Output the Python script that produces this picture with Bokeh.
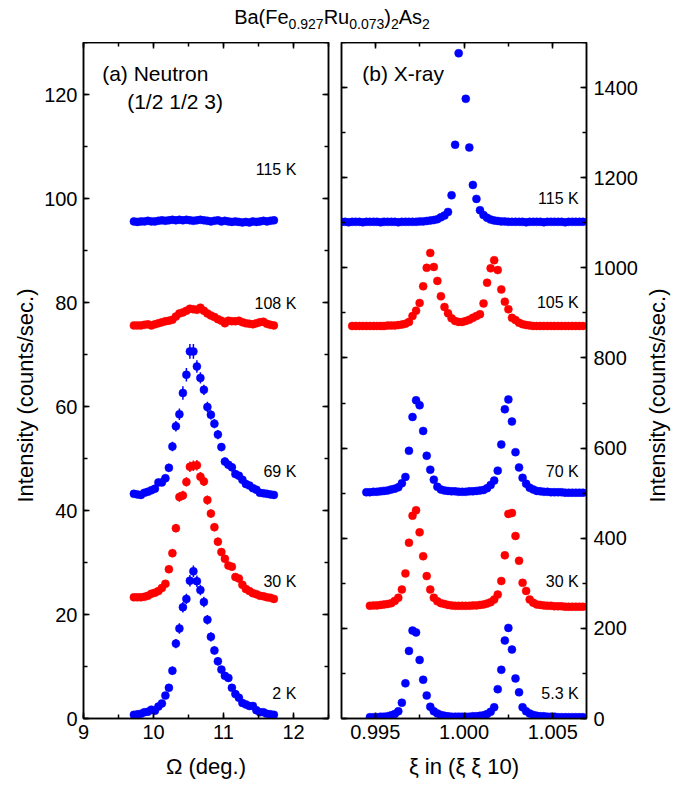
import math
from bokeh.plotting import figure
from bokeh.models import (LinearAxis, SingleIntervalTicker, Range1d, Label, Div,
                          NumeralTickFormatter, CustomLabelingPolicy)
from bokeh.layouts import row, column
from bokeh.embed import file_html
from bokeh.resources import INLINE

nan = float("nan")

# ---------------- (a) Neutron data: Omega (deg.) vs intensity ----------------
omega = [9.72, 9.77, 9.82, 9.87, 9.92, 9.97, 10.02, 10.07, 10.12, 10.17,
         10.22, 10.27, 10.32, 10.37, 10.42, 10.47, 10.52, 10.57, 10.62, 10.67,
         10.72, 10.77, 10.82, 10.87, 10.92, 10.97, 11.02, 11.07, 11.12, 11.17,
         11.22, 11.27, 11.32, 11.37, 11.42, 11.47, 11.52, 11.57, 11.62, 11.67,
         11.72]

n_2K = [0.7, 0.8, 0.9, 1.2, 1.3, 1.7, 1.5, 2.3, 2.9, 4.4,
        5.9, 9.2, 14.4, 17.3, 21.4, 23.0, 26.5, 28.3, 26.4, 24.7,
        22.4, 19.0, 15.7, 13.1, 11.0, 9.4, 8.2, 7.8, 5.9, 4.7,
        4.0, 3.0, 2.7, 2.4, 2.4, 1.6, 1.2, 1.2, 0.9, 0.8,
        0.7]
n_2K_err = [0.3, 0.3, 0.3, 0.4, 0.4, 0.4, 0.4, 0.5, 0.5, 0.6,
            0.7, 0.8, 0.9, 1.0, 1.0, 1.0, 1.1, 1.1, 1.1, 1.0,
            1.0, 0.9, 0.9, 0.8, 0.8, 0.7, 0.7, 0.7, 0.6, 0.6,
            0.5, 0.5, 0.5, 0.4, 0.4, 0.4, 0.4, 0.4, 0.3, 0.3,
            0.3]

n_30K = [23.3, 23.3, 23.3, 23.4, 23.6, 24.0, 24.2, 24.5, 25.1, 25.9,
         28.7, 31.8, 36.6, 42.6, 42.9, 45.5, 48.4, 48.6, 48.7, 46.5,
         45.6, 42.0, 39.4, 36.8, 34.0, 32.0, 30.7, 29.4, 29.2, 27.2,
         26.9, 25.7, 24.9, 24.5, 24.1, 23.9, 23.6, 23.5, 23.3, 23.2,
         23.0]
n_30K_err = [0.6, 0.6, 0.6, 0.6, 0.6, 0.6, 0.6, 0.6, 0.6, 0.7,
             0.7, 0.8, 0.8, 0.9, 0.9, 0.9, 1.0, 1.0, 1.0, 0.9,
             0.9, 0.9, 0.8, 0.8, 0.8, 0.8, 0.7, 0.7, 0.7, 0.7,
             0.7, 0.7, 0.6, 0.6, 0.6, 0.6, 0.6, 0.6, 0.6, 0.6,
             0.6]

n_69K = [43.2, 43.1, 43.0, 43.4, 43.6, 43.9, 44.2, 45.4, 45.4, 46.2,
         48.2, 52.3, 56.2, 58.5, 62.6, 66.1, 70.6, 70.6, 67.7, 65.5,
         63.2, 59.9, 58.4, 56.7, 54.6, 52.2, 49.4, 48.8, 48.3, 47.0,
         46.7, 45.9, 45.1, 44.8, 44.3, 44.0, 43.4, 43.3, 43.2, 43.1,
         43.0]
n_69K_err = [0.6, 0.6, 0.6, 0.6, 0.6, 0.6, 0.6, 0.7, 0.7, 0.7,
             0.8, 0.9, 1.0, 1.1, 1.3, 1.3, 1.4, 1.4, 1.2, 1.1,
             1.0, 1.0, 0.9, 0.9, 0.9, 0.8, 0.8, 0.8, 0.8, 0.7,
             0.7, 0.7, 0.7, 0.7, 0.6, 0.6, 0.6, 0.6, 0.6, 0.6,
             0.6]

n_108K = [75.6, 75.6, 75.6, 75.7, 75.8, 75.6, 75.8, 76.0, 76.2, 76.4,
          76.5, 76.7, 77.3, 77.9, 78.1, 78.4, 78.8, 78.7, 78.6, 79.0,
          78.4, 77.9, 77.5, 77.2, 76.8, 76.5, 76.0, 76.5, 76.4, 76.4,
          76.5, 76.2, 76.0, 75.9, 75.8, 76.0, 76.2, 76.3, 75.9, 75.7,
          75.6]

n_115K = [95.6, 95.5, 95.6, 95.6, 95.7, 95.6, 95.6, 95.7, 95.8, 95.7,
          95.8, 95.9, 95.8, 95.9, 95.8, 95.9, 95.8, 95.7, 95.8, 95.9,
          95.8, 95.7, 95.6, 95.7, 95.8, 95.6, 95.7, 95.6, 95.5, 95.6,
          95.5, 95.4, 95.5, 95.4, 95.6, 95.5, 95.6, 95.7, 95.6, 95.7,
          95.8]

# ---------------- (b) X-ray data: xi in (xi xi 10) vs intensity ----------------
xi = [0.9931, 0.9933, 0.9935, 0.9937, 0.9939, 0.9941, 0.9943, 0.9945, 0.9947, 0.9949,
      0.9951, 0.9953, 0.9955, 0.9957, 0.9959, 0.9961, 0.9963, 0.9965, 0.9967, 0.9969,
      0.9971, 0.9973, 0.9975, 0.9977, 0.9979, 0.9981, 0.9983, 0.9985, 0.9987, 0.9989,
      0.9991, 0.9993, 0.9995, 0.9997, 0.9999, 1.0001, 1.0003, 1.0005, 1.0007, 1.0009,
      1.0011, 1.0013, 1.0015, 1.0017, 1.0019, 1.0021, 1.0023, 1.0025, 1.0027, 1.0029,
      1.0031, 1.0033, 1.0035, 1.0037, 1.0039, 1.0041, 1.0043, 1.0045, 1.0047, 1.0049,
      1.0051, 1.0053, 1.0055, 1.0057, 1.0059, 1.0061, 1.0063, 1.0065, 1.0067]

x_5K = [nan, nan, nan, nan, nan, nan, nan, nan, 3, 3,
        3, 4, 4, 5, 7, 10, 16, 35, 78, 150,
        195, 191, 130, 86, 51, 26, 16, 11, 8, 6,
        5, 4, 4, 4, 4, 4, 4, 5, 5, 6,
        7, 10, 15, 25, 65, 108, 173, 201, 153, 89,
        58, 25, 16, 11, 8, 6, 5, 5, 4, 4,
        4, 3, 3, 3, 3, 3, 3, 3, 3]

x_30K = [nan, nan, nan, nan, nan, nan, nan, nan, 250, 251,
         251, 252, 253, 254, 256, 261, 268, 286, 322, 390,
         450, 462, 413, 360, 316, 286, 268, 260, 256, 254,
         252, 251, 250, 250, 250, 250, 250, 251, 251, 252,
         253, 255, 258, 264, 275, 305, 362, 454, 456, 405,
         350, 301, 283, 264, 257, 253, 252, 251, 250, 250,
         249, 249, 249, 248, 248, 248, 248, 248, 248]

x_70K = [nan, nan, nan, nan, nan, nan, nan, 502, 502, 503,
         503, 504, 505, 506, 508, 510, 513, 522, 536, 594,
         669, 706, 695, 638, 583, 552, 530, 514, 508, 506,
         505, 504, 504, 503, 503, 503, 504, 504, 505, 506,
         507, 511, 518, 528, 550, 608, 686, 708, 659, 591,
         557, 534, 521, 512, 508, 505, 504, 503, 503, 502,
         502, 502, 502, 501, 501, 501, 501, 501, 501]

x_105K = [nan, nan, nan, 871, 871, 871, 871, 871, 871, 871,
          871, 871, 871, 872, 872, 872, 873, 874, 876, 880,
          893, 905, 922, 959, 1000, 1033, 1002, 971, 937, 913,
          899, 888, 882, 880, 880, 882, 885, 889, 893, 897,
          921, 967, 999, 1017, 995, 952, 925, 908, 889, 884,
          878, 875, 873, 872, 871, 871, 871, 871, 871, 871,
          871, 871, 871, 871, 871, 871, 871, 871, 871]

x_115K = [1102, 1102, 1101, 1102, 1102, 1102, 1101, 1102, 1102, 1102,
          1102, 1101, 1102, 1102, 1102, 1102, 1101, 1102, 1102, 1102,
          1102, 1102, 1103, 1103, 1104, 1105, 1106, 1108, 1112, 1116,
          1124, 1161, 1273, 1476, nan, 1375, 1267, 1184, 1153, 1128,
          1117, 1111, 1107, 1105, 1104, 1103, 1103, 1102, 1102, 1102,
          1102, 1102, 1101, 1102, 1102, 1102, 1102, 1101, 1102, 1102,
          1102, 1102, 1102, 1101, 1102, 1102, 1102, 1102, 1102]

left_curve_labels = ["115 K", "108 K", "69 K", "30 K", "2 K"]
right_curve_labels = ["115 K", "105 K", "70 K", "30 K", "5.3 K"]

# ---------------- styling ----------------
FONT = "Liberation Sans"
BLUE = "#0000FF"
RED = "#FF0000"
TICK_FS = "20px"
AXLAB_FS = "22px"
ANN_FS = "16px"
PANEL_FS = "21px"
FIG_H = 743

HIDE_ALL = CustomLabelingPolicy(code="for (const i of indices) { indices.unset(i) }\nreturn indices")


def style_axis(ax, show_labels=True):
    ax.axis_line_color = "black"
    ax.axis_line_width = 1.5
    ax.major_tick_in = 6
    ax.major_tick_out = 0
    ax.minor_tick_in = 4
    ax.minor_tick_out = 0
    ax.major_tick_line_width = 1.5
    ax.minor_tick_line_width = 1.5
    ax.major_tick_line_color = "black"
    ax.minor_tick_line_color = "black"
    ax.major_label_text_font = FONT
    ax.axis_label_text_font = FONT
    ax.axis_label_text_font_style = "normal"
    ax.axis_label_text_font_size = AXLAB_FS
    ax.major_label_text_color = "black"
    ax.axis_label_text_color = "black"
    if show_labels:
        ax.major_label_text_font_size = TICK_FS
    else:
        ax.major_label_policy = HIDE_ALL
        ax.major_label_text_font_size = "0px"
        ax.major_label_standoff = 0
        ax.axis_label = None


def base_fig(width, x_range, y_range, ylab_loc, bl, br):
    p = figure(width=width, height=FIG_H, x_range=x_range, y_range=y_range,
               output_backend="svg", toolbar_location=None,
               y_axis_location=ylab_loc,
               min_border_left=bl, min_border_right=br,
               min_border_top=0, min_border_bottom=67)
    p.xgrid.visible = False
    p.ygrid.visible = False
    p.outline_line_color = "black"
    p.outline_line_width = 1.5
    p.background_fill_color = "white"
    p.border_fill_color = "white"
    return p


def add_text(p, x, y, txt, size, align="left", angle=0.0):
    p.add_layout(Label(x=x, y=y, text=txt, text_align=align, angle=angle,
                       text_baseline="middle", text_font=FONT,
                       text_font_size=size, text_color="black"))


def side_title(width, x, txt):
    # narrow strip holding a rotated y-axis title (reads bottom to top)
    s = figure(width=width, height=FIG_H, x_range=Range1d(0, width),
               y_range=Range1d(0, FIG_H), output_backend="svg",
               toolbar_location=None, x_axis_type=None, y_axis_type=None,
               min_border=0)
    s.outline_line_color = None
    s.xgrid.visible = False
    s.ygrid.visible = False
    s.background_fill_color = "white"
    s.border_fill_color = "white"
    add_text(s, x, 355, txt, AXLAB_FS, align="center", angle=math.pi / 2)
    return s


# ---------------- panel (a) ----------------
p1 = base_fig(294, Range1d(9, 12.5), Range1d(0, 130), "left", 43, 6)
xt1 = SingleIntervalTicker(interval=1, num_minor_ticks=2)
yt1 = SingleIntervalTicker(interval=20, num_minor_ticks=2)
p1.xaxis.ticker = xt1
p1.yaxis.ticker = yt1
p1.xaxis.axis_label = "\u03a9 (deg.)"
for ax in p1.xaxis + p1.yaxis:
    style_axis(ax)
p1.xaxis.major_label_standoff = 6
p1.xaxis.axis_label_standoff = 12
p1.yaxis.major_label_standoff = 6
ax_top1 = LinearAxis(ticker=xt1)
style_axis(ax_top1, False)
p1.add_layout(ax_top1, "above")
ax_r1 = LinearAxis(ticker=yt1)
style_axis(ax_r1, False)
p1.add_layout(ax_r1, "right")

for ys, errs, col in [(n_2K, n_2K_err, BLUE), (n_30K, n_30K_err, RED),
                      (n_69K, n_69K_err, BLUE)]:
    lo = [v - e for v, e in zip(ys, errs)]
    hi = [v + e for v, e in zip(ys, errs)]
    p1.segment(x0=omega, y0=lo, x1=omega, y1=hi, line_color=col, line_width=1.5)
for ys, col in [(n_2K, BLUE), (n_30K, RED), (n_69K, BLUE), (n_108K, RED), (n_115K, BLUE)]:
    p1.scatter(omega, ys, size=8, fill_color=col, line_color=col, line_width=0.5)

for txt, yy in zip(left_curve_labels, [105.6, 79.9, 47.5, 26.4, 4.9]):
    add_text(p1, 12.04, yy, txt, ANN_FS, align="right")
add_text(p1, 9.267, 124.0, "(a) Neutron", PANEL_FS)
add_text(p1, 9.624, 118.6, "(1/2 1/2 3)", PANEL_FS)

# ---------------- panel (b) ----------------
p2 = base_fig(308, Range1d(0.9931, 1.0069), Range1d(0, 1500), "right", 7, 56)
xt2 = SingleIntervalTicker(interval=0.005, num_minor_ticks=2)
yt2 = SingleIntervalTicker(interval=200, num_minor_ticks=2)
p2.xaxis.ticker = xt2
p2.yaxis.ticker = yt2
p2.xaxis.formatter = NumeralTickFormatter(format="0.000")
p2.xaxis.axis_label = "\u03be in (\u03be \u03be 10)"
for ax in p2.xaxis + p2.yaxis:
    style_axis(ax)
p2.xaxis.major_label_standoff = 6
p2.xaxis.axis_label_standoff = 12
p2.yaxis.major_label_standoff = 7
ax_top2 = LinearAxis(ticker=xt2)
style_axis(ax_top2, False)
p2.add_layout(ax_top2, "above")
ax_l2 = LinearAxis(ticker=yt2)
style_axis(ax_l2, False)
p2.add_layout(ax_l2, "left")

for ys, col in [(x_5K, BLUE), (x_30K, RED), (x_70K, BLUE), (x_105K, RED), (x_115K, BLUE)]:
    p2.scatter(xi, ys, size=8, fill_color=col, line_color=col, line_width=0.5)

for txt, yy in zip(right_curve_labels, [1154, 923, 549, 304, 56]):
    add_text(p2, 1.00646, yy, txt, ANN_FS, align="right")
add_text(p2, 0.99427, 1432, "(b) X-ray", PANEL_FS)

left_title = side_title(40, 25, "Intensity (counts/sec.)")
right_title = side_title(37, 14.5, "Intensity (counts/sec.)")

SUB = '<sub style="font-size:14px;vertical-align:-5px;line-height:0">'
title = Div(text=('<div style="width:664px;text-align:center;font-family:\'Liberation Sans\';'
                  'font-size:20px;line-height:20px;color:black;padding-top:7px">'
                  'Ba(Fe' + SUB + '0.927</sub>Ru' + SUB + '0.073</sub>)' + SUB + '2</sub>As'
                  + SUB + '2</sub></div>'),
            width=664, height=42, margin=0)

layout = column(title, row(left_title, p1, p2, right_title))
open("out.html", "w").write(file_html(layout, INLINE))
